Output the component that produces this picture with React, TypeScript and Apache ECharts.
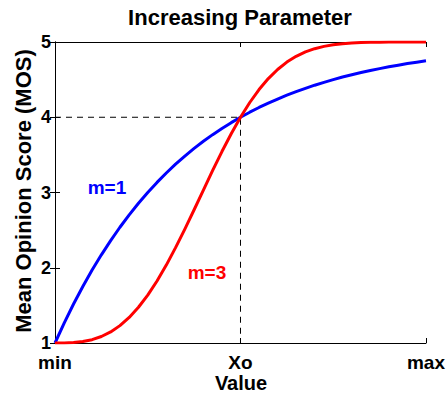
import React, { useEffect, useRef } from "react";
import * as echarts from "echarts";

const xValues = [
  0, 0.025, 0.05, 0.075, 0.1, 0.125, 0.15, 0.175, 0.2, 0.225, 0.25, 0.275, 0.3, 0.325, 0.35, 0.375, 0.4,
  0.425, 0.45, 0.475, 0.5, 0.525, 0.55, 0.575, 0.6, 0.625, 0.65, 0.675, 0.7, 0.725, 0.75, 0.775, 0.8,
  0.825, 0.85, 0.875, 0.9, 0.925, 0.95, 0.975, 1,
];
const m1Values = [
  1.0, 1.268, 1.518, 1.751, 1.969, 2.172, 2.361, 2.538, 2.703, 2.857, 3.0, 3.134, 3.259, 3.376, 3.484,
  3.586, 3.681, 3.769, 3.851, 3.928, 4.0, 4.067, 4.13, 4.188, 4.242, 4.293, 4.34, 4.384, 4.426, 4.464,
  4.5, 4.534, 4.565, 4.594, 4.621, 4.646, 4.67, 4.692, 4.713, 4.732, 4.75,
];
const m3Values = [
  1.0, 1.001, 1.006, 1.019, 1.044, 1.086, 1.147, 1.231, 1.34, 1.475, 1.636, 1.824, 2.035, 2.267, 2.514,
  2.771, 3.033, 3.293, 3.544, 3.781, 4.0, 4.196, 4.368, 4.514, 4.635, 4.733, 4.81, 4.868, 4.911, 4.942,
  4.963, 4.977, 4.986, 4.992, 4.996, 4.998, 4.999, 4.999, 5.0, 5.0, 5.0,
];
const xTickLabels: Record<string, string> = { "0": "min", "0.5": "Xo", "1": "max" };
const yTicks = [1, 2, 3, 4, 5];
const refX = 0.5;
const refY = 4;

const FONT = "'Liberation Sans', Arial, Helvetica, sans-serif";

export default function App() {
  const ref = useRef<HTMLDivElement>(null);
  useEffect(() => {
    if (!ref.current) return;
    const chart = echarts.init(ref.current, null, { renderer: "svg" });
    const axisLine = { show: true, lineStyle: { color: "#000", width: 1 } };
    const tick = { show: true, inside: true, length: 5, lineStyle: { color: "#000", width: 1 } };
    chart.setOption({
      animation: false,
      backgroundColor: "#fff",
      grid: { left: 55, right: 21, top: 42, bottom: 52 },
      xAxis: [
        {
          type: "value",
          min: 0,
          max: 1,
          interval: 0.5,
          position: "bottom",
          axisLine,
          axisTick: tick,
          splitLine: { show: false },
          axisLabel: {
            margin: 12,
            color: "#000",
            fontFamily: FONT,
            fontWeight: "bold",
            fontSize: 19,
            lineHeight: 15,
            formatter: (v: number) => xTickLabels[String(v)] ?? "",
          },
        },
        {
          type: "value",
          min: 0,
          max: 1,
          interval: 0.5,
          position: "top",
          axisLine,
          axisTick: tick,
          splitLine: { show: false },
          axisLabel: { show: false },
        },
      ],
      yAxis: [
        {
          type: "value",
          min: yTicks[0],
          max: yTicks[yTicks.length - 1],
          interval: 1,
          position: "left",
          axisLine,
          axisTick: tick,
          splitLine: { show: false },
          axisLabel: {
            margin: 4,
            color: "#000",
            fontFamily: FONT,
            fontWeight: "bold",
            fontSize: 18,
            lineHeight: 14,
          },
        },
        {
          type: "value",
          min: yTicks[0],
          max: yTicks[yTicks.length - 1],
          interval: 1,
          position: "right",
          axisLine,
          axisTick: tick,
          splitLine: { show: false },
          axisLabel: { show: false },
        },
      ],
      graphic: [
        {
          type: "text",
          x: 240,
          y: 17,
          style: {
            text: "Increasing Parameter",
            font: `bold 22px ${FONT}`,
            fill: "#000",
            align: "center",
            verticalAlign: "middle",
          },
        },
        {
          type: "text",
          x: 241,
          y: 383,
          style: {
            text: "Value",
            font: `bold 20px ${FONT}`,
            lineHeight: 16,
            fill: "#000",
            align: "center",
            verticalAlign: "middle",
          },
        },
        {
          type: "text",
          x: 23,
          y: 191,
          rotation: Math.PI / 2,
          style: {
            text: "Mean Opinion Score (MOS)",
            font: `bold 22px ${FONT}`,
            fill: "#000",
            align: "center",
            verticalAlign: "middle",
          },
        },
        {
          type: "text",
          x: 107,
          y: 187,
          style: {
            text: "m=1",
            font: `bold 19px ${FONT}`,
            fill: "#0000ff",
            align: "center",
            verticalAlign: "middle",
          },
        },
        {
          type: "text",
          x: 207,
          y: 272,
          style: {
            text: "m=3",
            font: `bold 19px ${FONT}`,
            fill: "#ff0000",
            align: "center",
            verticalAlign: "middle",
          },
        },
      ],
      series: [
        {
          type: "line",
          data: [
            [xValues[0], refY],
            [refX, refY],
            [refX, yTicks[0]],
          ],
          showSymbol: false,
          symbol: "none",
          lineStyle: { color: "#000", width: 1, type: [6, 5] },
          z: 1,
        },
        {
          type: "line",
          name: "m=1",
          data: xValues.map((x, i) => [x, m1Values[i]]),
          showSymbol: false,
          symbol: "none",
          smooth: false,
          lineStyle: { color: "#0000ff", width: 3, join: "round" },
          z: 3,
        },
        {
          type: "line",
          name: "m=3",
          data: xValues.map((x, i) => [x, m3Values[i]]),
          showSymbol: false,
          symbol: "none",
          smooth: false,
          lineStyle: { color: "#ff0000", width: 3, join: "round" },
          z: 4,
        },
      ],
    });
    return () => chart.dispose();
  }, []);
  return (
    <div
      ref={ref}
      style={{ position: "fixed", left: 0, top: 0, width: 448, height: 395, background: "#fff" }}
    />
  );
}
